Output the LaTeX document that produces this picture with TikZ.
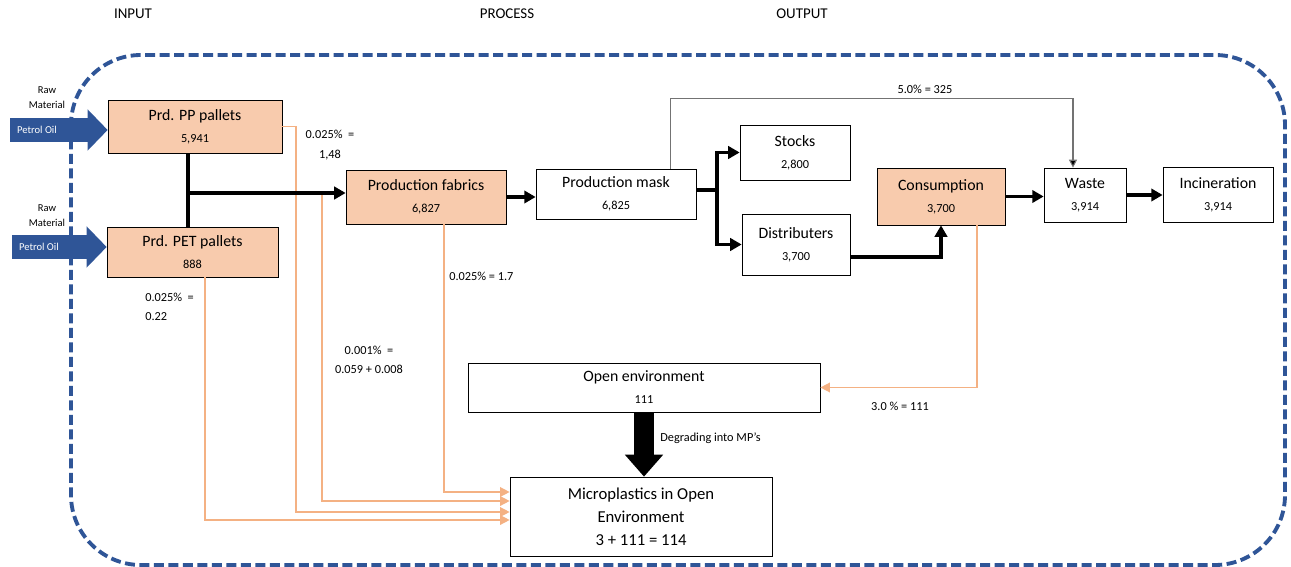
\documentclass[tikz,border=0pt]{standalone}
\usepackage{fontspec}
\setmainfont{Carlito}
\usetikzlibrary{arrows.meta}
\definecolor{peach}{HTML}{F8CBAD}
\definecolor{leak}{HTML}{F4B183}
\definecolor{frameblue}{HTML}{2F5597}
\newcommand{\amount}[1]{{\fontsize{7}{8}\selectfont #1}}
\begin{document}
\begin{tikzpicture}[x=0.02cm, y=-0.02cm,
  box/.style={draw, thin, align=center, inner sep=0pt, font=\fontsize{9}{12.5}\selectfont},
  hot/.style={box, fill=peach},
  lbl/.style={align=center, inner sep=0pt, font=\fontsize{7}{11}\selectfont},
  heavy/.style={line width=2pt, -{Triangle[length=6.5pt, width=7pt]}},
  leakline/.style={draw=leak, line width=0.8pt, -{Triangle[length=5.5pt, width=5.5pt]}},
  skip/.style={draw=black!55, line width=0.6pt, -{Triangle[length=4.5pt, width=4.5pt, fill=black]}},
  oil/.style={frameblue, line width=0.48cm, -{Triangle[width=0.8cm, length=0.4cm]}}]
\useasboundingbox (0,0) rectangle (1291,567);

\node[lbl, font=\fontsize{8.5}{10}\selectfont] (hin) at (133,14) {INPUT};
\node[lbl, font=\fontsize{8.5}{10}\selectfont] (hpr) at (507,14) {PROCESS};
\node[lbl, font=\fontsize{8.5}{10}\selectfont] (hout) at (802,14) {OUTPUT};

\draw[frameblue, line width=2.2pt, dash pattern=on 0.2cm off 0.09cm, rounded corners=1.4cm] (71,55) rectangle (1285,565);

\node[hot, minimum width=3.48cm, minimum height=1.06cm] (pp) at (195,126.5) {Prd. PP pallets\\\amount{5,941}};
\node[hot, minimum width=3.42cm, minimum height=1cm] (pet) at (192.5,252) {Prd. PET pallets\\\amount{888}};
\node[hot, minimum width=3.2cm, minimum height=1.08cm] (fab) at (426,197) {Production fabrics\\\amount{6,827}};
\node[box, minimum width=3.2cm, minimum height=1cm] (mask) at (616,194) {Production mask\\\amount{6,825}};
\node[box, minimum width=2.2cm, minimum height=1.1cm] (stk) at (795,152.5) {Stocks\\\amount{2,800}};
\node[box, minimum width=2.16cm, minimum height=1.22cm] (dist) at (796,244.5) {Distributers\\\amount{3,700}};
\node[hot, minimum width=2.56cm, minimum height=1.14cm] (cons) at (941,196.5) {Consumption\\\amount{3,700}};
\node[box, minimum width=1.64cm, minimum height=1.08cm] (waste) at (1085,195) {Waste\\\amount{3,914}};
\node[box, minimum width=2.2cm, minimum height=1.1cm] (inc) at (1218,194.5) {Incineration\\\amount{3,914}};
\node[box, minimum width=7.04cm, minimum height=0.98cm] (env) at (644,387.5) {Open environment\\\amount{111}};
\node[box, minimum width=5.24cm, minimum height=1.58cm, font=\fontsize{9.5}{13}\selectfont] (mp) at (641,516.5) {Microplastics in Open\\Environment\\3 + 111 = 114};

\node[lbl, font=\fontsize{6}{8.5}\selectfont] (raw1) at (47,98) {Raw\\Material};
\node[lbl, font=\fontsize{6}{8.5}\selectfont] (raw2) at (47,216) {Raw\\Material};
\coordinate (oil1) at (10,130);
\coordinate (oil2) at (12,247);
\draw[oil] (oil1) -- (oil1 -| pp.west);
\draw[oil] (oil2) -- (oil2 -| pet.west);
\node[lbl, text=white, font=\fontsize{6}{7}\selectfont] (po1) at (37,130) {Petrol Oil};
\node[lbl, text=white, font=\fontsize{6}{7}\selectfont] (po2) at (39,247) {Petrol Oil};

\coordinate (jn) at (188,193);
\coordinate (tap) at (322,193);
\coordinate (fork) at (717,190);

\draw[leakline] ([xshift=0.36cm]fab.south) |- ([yshift=0.49cm]mp.west);
\draw[leakline] (tap) |- ([yshift=0.31cm]mp.west);
\draw[leakline] (pp.east) -- ++(13.5,0) |- ([yshift=0.09cm]mp.west);
\draw[leakline] ([xshift=-0.57cm]cons.south east) |- (env.east);
\draw[leakline] ([xshift=0.25cm]pet.south) |- ([yshift=-0.07cm]mp.west);

\draw[line width=2pt] (pp.south -| jn) -- (pet.north -| jn);
\draw[heavy] (jn) -- (jn -| fab.west);
\draw[heavy] (fab.east) -- (fab.east -| mask.west);
\draw[line width=2pt] (mask.east |- fork) -- (fork);
\draw[heavy] (fork) |- (stk.west);
\draw[heavy] (fork) |- (dist.west);
\draw[heavy] (dist.-13) -| (cons.south);
\draw[heavy] (cons.east) -- (cons.east -| waste.west);
\draw[heavy] (waste.east) -- (waste.east -| inc.west);
\draw[skip] ([xshift=-0.52cm]mask.north east) -- ++(0,-70) -| ([xshift=-0.24cm]waste.north);
\draw[line width=0.4cm, -{Triangle[width=0.74cm, length=0.44cm]}] (env.south) -- (env.south |- mp.north);

\node[lbl] (r1) at (330,145) {0.025\%\ \ =\\1,48};
\node[lbl, align=left, anchor=west] (r2) at (145,307) {0.025\%\ \ =\\0.22};
\node[lbl] (r3) at (369,360) {0.001\%\ \ =\\0.059 + 0.008};
\node[lbl, anchor=west] (r4) at (449,276) {0.025\% = 1.7};
\node[lbl] (r5) at (925,89) {5.0\% = 325};
\node[lbl] (r6) at (900,406) {3.0 \% = 111};
\node[lbl, anchor=west] (r7) at (660,438) {Degrading into MP’s};
\end{tikzpicture}
\end{document}
